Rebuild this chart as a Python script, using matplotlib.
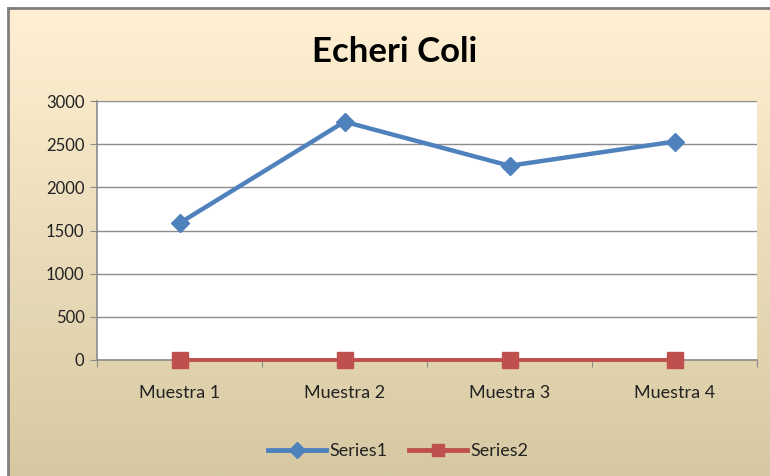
import numpy as np
import matplotlib
matplotlib.use('Agg')
from matplotlib import pyplot as plt
from matplotlib.lines import Line2D

categories = ['Muestra 1', 'Muestra 2', 'Muestra 3', 'Muestra 4']
series1 = [1585, 2760, 2250, 2530]
series2 = [0, 0, 0, 0]
yticks = [0, 500, 1000, 1500, 2000, 2500, 3000]

plt.rcParams['font.family'] = ['Lato', 'DejaVu Sans']

W, H = 770, 476
fig = plt.figure(figsize=(W / 100, H / 100), dpi=100)
fig.patch.set_facecolor('white')

# chart area background: cream -> tan gradient
x0, y1 = 8 / W, 1 - 8 / H
bg = fig.add_axes([x0, 0, 1 - x0, y1], zorder=0)
top = np.array([255, 240, 210]) / 255
bot = np.array([214, 201, 162]) / 255
t = np.linspace(0, 1, 256)[:, None]
grad = top * (1 - t) + bot * t
bg.imshow(grad[:, None, :], aspect='auto', extent=[0, 1, 0, 1])
bg.set_axis_off()

# grey border on top and left
fig.add_artist(Line2D([x0, x0], [0, y1], transform=fig.transFigure, color='#7f7f7f', lw=2))
fig.add_artist(Line2D([x0, 1], [y1, y1], transform=fig.transFigure, color='#7f7f7f', lw=2))

ax = fig.add_axes([97 / W, 1 - 360 / H, 660 / W, 259 / H], zorder=1)
ax.set_facecolor('white')
x = np.arange(len(categories))
ax.plot(x, series1, color='#4F81BD', lw=3.2, marker='D', ms=9, label='Series1', zorder=3, clip_on=False)
ax.plot(x, series2, color='#C0504D', lw=2.8, marker='s', ms=11, label='Series2', zorder=3, clip_on=False)

ax.set_xlim(-0.5, len(categories) - 0.5)
ax.set_ylim(0, 3000)
ax.set_yticks(yticks)
ax.set_yticklabels([str(v) for v in yticks], fontsize=12, color='#222222')
ax.set_xticks(np.arange(len(categories) + 1) - 0.5, minor=False)
ax.set_xticklabels([])
ax.set_xticks(x, minor=True)
ax.set_xticklabels(categories, minor=True, fontsize=13, color='#222222')
ax.tick_params(axis='x', which='minor', length=0, pad=18)
ax.tick_params(axis='x', which='major', length=5, color='#8c8c8c')
ax.tick_params(axis='y', length=5, color='#8c8c8c', pad=4)
ax.grid(axis='y', color='#8c8c8c', lw=1)
ax.set_axisbelow(True)
for s in ['top', 'right']:
    ax.spines[s].set_visible(False)
for s in ['left', 'bottom']:
    ax.spines[s].set_color('#8c8c8c')
    ax.spines[s].set_linewidth(1.2)

fig.text(395 / W, 1 - 52 / H, 'Echeri Coli', ha='center', va='center', fontsize=25, fontweight='bold')

leg = fig.legend(loc='center', bbox_to_anchor=(398 / W, 1 - 451 / H), ncol=2, frameon=False,
                 fontsize=13, handlelength=3.2, handletextpad=0.2, columnspacing=1.2, markerscale=0.85,
                 labelcolor='#222222')
for h in leg.legend_handles:
    h.set_linewidth(3.5)

fig.savefig('out.png', dpi=100)
